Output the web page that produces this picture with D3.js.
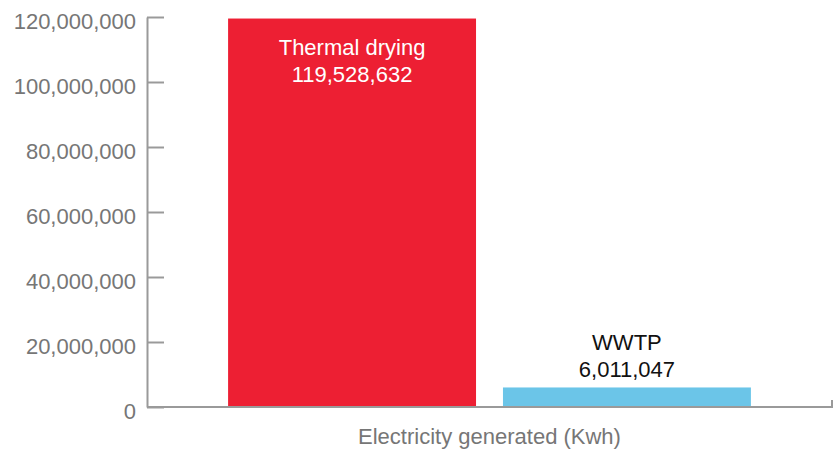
<!DOCTYPE html>
<html>
<head>
<meta charset="utf-8">
<script src="https://cdn.jsdelivr.net/npm/d3@7"></script>
<style>
  body { margin: 0; background: #fff; }
  text { font-family: Tahoma, "Liberation Sans", Arial, sans-serif; }
</style>
</head>
<body>
<svg id="chart" width="835" height="450"></svg>
<script>
const categories = ["Thermal drying", "WWTP"];
const values = [119528632, 6011047];
const colors = ["#ed1f33", "#6bc5e8"];
const yTicks = [0, 20000000, 40000000, 60000000, 80000000, 100000000, 120000000];
const axisTitle = "Electricity generated (Kwh)";

const svg = d3.select("#chart");
const plotLeft = 147, plotRight = 832, plotTop = 17, plotBottom = 407;

const x = d3.scaleBand().domain(categories).range([plotLeft, plotRight])
  .paddingInner(0.098).paddingOuter(0.295);
const y = d3.scaleLinear().domain([0, 120000000]).range([plotBottom, plotTop]);
const fmt = d3.format(",");

// y axis
const yAxis = svg.append("g")
  .attr("transform", `translate(${plotLeft},0)`)
  .call(d3.axisLeft(y).tickValues(yTicks).tickFormat(fmt).tickSize(0).tickPadding(11));
yAxis.select(".domain").attr("stroke", "#9a9a9a").attr("stroke-width", 2);
yAxis.selectAll("text")
  .attr("fill", "#767676")
  .attr("font-size", 22)
  .attr("dy", "0.52em");
yAxis.selectAll(".tick").append("line")
  .attr("x1", 0).attr("x2", 17).attr("stroke", "#9a9a9a").attr("stroke-width", 2);

// bars
svg.selectAll("rect.bar").data(categories).join("rect")
  .attr("class", "bar")
  .attr("x", d => x(d))
  .attr("width", x.bandwidth())
  .attr("y", (d, i) => y(values[i]))
  .attr("height", (d, i) => y(0) - y(values[i]))
  .attr("fill", (d, i) => colors[i]);

// baseline with closing tick at the right end
svg.append("path")
  .attr("d", `M${plotLeft},${plotBottom}H${plotRight}V${plotBottom - 7}`)
  .attr("fill", "none").attr("stroke", "#9a9a9a").attr("stroke-width", 2);

// value labels
categories.forEach((c, i) => {
  const cx = x(c) + x.bandwidth() / 2;
  const inside = i === 0;
  const base = inside ? y(values[i]) + 36 : y(values[i]) - 37;
  const g = svg.append("text")
    .attr("text-anchor", "middle")
    .attr("font-size", 22)
    .attr("fill", inside ? "#ffffff" : "#111111");
  g.append("tspan").attr("x", cx).attr("y", base).text(c);
  g.append("tspan").attr("x", cx).attr("y", base + 27).text(fmt(values[i]));
});

// axis title
svg.append("text")
  .attr("x", (plotLeft + plotRight) / 2)
  .attr("y", 444)
  .attr("text-anchor", "middle")
  .attr("font-size", 22)
  .attr("fill", "#767676")
  .text(axisTitle);
</script>
</body>
</html>
